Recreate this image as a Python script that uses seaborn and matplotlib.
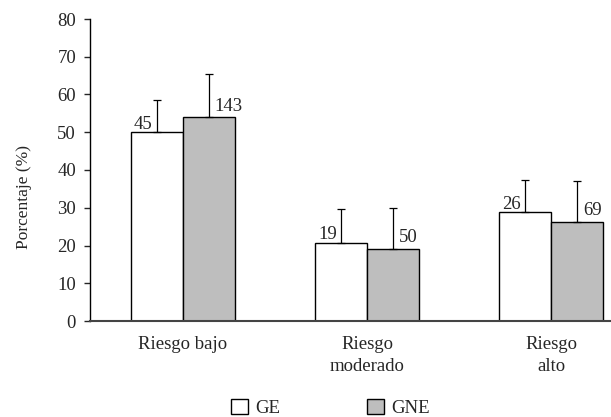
import pandas as pd
import matplotlib.pyplot as plt
import seaborn as sns
from matplotlib.patches import Patch

# datos
categorias = ["Riesgo bajo", "Riesgo\nmoderado", "Riesgo\nalto"]
grupos = ["GE", "GNE"]
pct_ge = [50.0, 20.7, 28.8]
pct_gne = [54.1, 19.2, 26.3]
err_ge = [8.6, 8.9, 8.6]
err_gne = [11.2, 10.8, 10.9]
n_ge = [45, 19, 26]
n_gne = [143, 50, 69]
colores = {"GE": "white", "GNE": "#bebebe"}

df = pd.DataFrame({
    "riesgo": categorias * 2,
    "grupo": ["GE"] * 3 + ["GNE"] * 3,
    "pct": pct_ge + pct_gne,
})

sns.set_style("ticks")
plt.rcParams['font.family'] = ['Liberation Serif', 'DejaVu Serif']
fs = 13.5

fig = plt.figure(figsize=(6.11, 4.17), dpi=100)
ax = fig.add_axes([90 / 611, 96 / 417, 521 / 611, 302 / 417])

sns.barplot(data=df, x="riesgo", y="pct", hue="grupo", palette=colores,
            edgecolor="black", linewidth=1, width=0.564, legend=False, ax=ax)

# barras de error (solo hacia arriba) y n de cada grupo
for cont, errs, ns, lado in zip(ax.containers, [err_ge, err_gne], [n_ge, n_gne], ["right", "left"]):
    for bar, e, n in zip(cont, errs, ns):
        x = bar.get_x() + bar.get_width() / 2
        h = bar.get_height()
        ax.errorbar(x, h, yerr=[[0], [e]], fmt="none", ecolor="black",
                    elinewidth=0.9, capsize=3, capthick=0.9)
        dx = -3 if lado == "right" else 4
        dy = 2.5 if lado == "right" else 4.5
        ax.annotate(str(n), (x, h), xytext=(dx, dy), textcoords="offset points",
                    ha=lado, va="baseline", fontsize=fs)

ax.set_xlim(-0.503, 2.324)
ax.set_ylim(0, 80)
ax.set_yticks(range(0, 81, 10))
ax.set_xlabel("")
ax.set_ylabel("Porcentaje (%)", fontsize=12.5)
ax.yaxis.set_label_coords(-0.112, 0.41)
ax.tick_params(axis="y", direction="out", length=4, width=1, pad=6, labelsize=fs)
ax.tick_params(axis="x", length=0, pad=11, labelsize=fs)
for lbl in ax.get_xticklabels():
    lbl.set_linespacing(1.35)
sns.despine(ax=ax)
ax.spines["left"].set_color("black")
ax.spines["left"].set_linewidth(1)
ax.spines["bottom"].set_color("#444444")
ax.spines["bottom"].set_linewidth(1.5)

handles = [Patch(facecolor=colores[g], edgecolor="black", linewidth=1, label=g) for g in grupos]
fig.legend(handles=handles, loc="center", bbox_to_anchor=(0.541, 0.022), ncol=2,
           frameon=False, handlelength=0.9, handleheight=0.9, handletextpad=0.4,
           columnspacing=4.6, fontsize=fs)

fig.savefig("out.png", dpi=100)
